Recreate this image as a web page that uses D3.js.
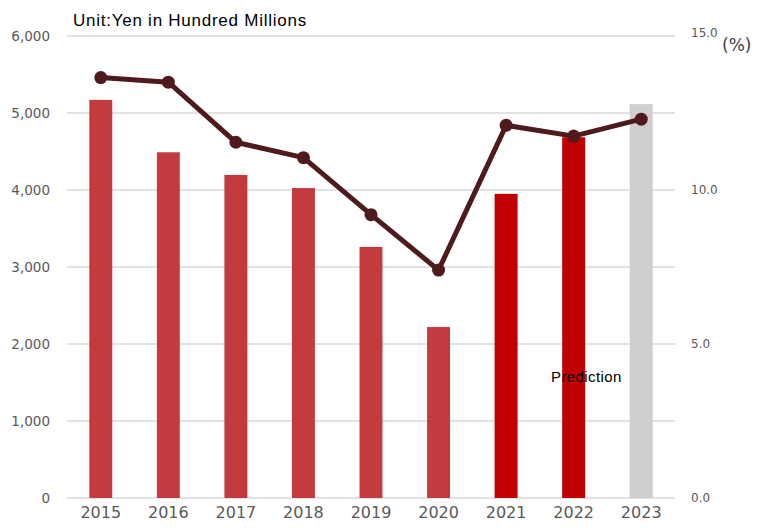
<!DOCTYPE html>
<html>
<head>
<meta charset="utf-8">
<script src="https://cdn.jsdelivr.net/npm/d3@7"></script>
<style>
  body { margin: 0; background: #fff; }
</style>
</head>
<body>
<div class="chart"></div>
<script>
var width = 758;
var height = 528;
var margin = { top: 36, right: 84, bottom: 30, left: 67 };

var years = ["2015", "2016", "2017", "2018", "2019", "2020", "2021", "2022", "2023"];
var sales = [5170, 4490, 4195, 4025, 3260, 2220, 3950, 4685, 5115];
var rate = [13.65, 13.5, 11.55, 11.05, 9.2, 7.4, 12.1, 11.75, 12.3];
var barColors = ["#c33b3e", "#c33b3e", "#c33b3e", "#c33b3e", "#c33b3e", "#c33b3e", "#c00000", "#c00000", "#d0cece"];
var leftTicks = [0, 1000, 2000, 3000, 4000, 5000, 6000];
var rightTicks = [0, 5, 10, 15];

var svg = d3.select(".chart").append("svg").attr("width", width).attr("height", height);

var x = d3.scaleBand().domain(years)
	.range([margin.left, width - margin.right + 1])
	.paddingInner(0.66).paddingOuter(0.33);
var yLeft = d3.scaleLinear().domain([0, 6000]).range([height - margin.bottom, margin.top]);
var yRight = d3.scaleLinear().domain([0, 15]).range([height - margin.bottom, margin.top]);

// gridlines
svg.append("g").selectAll("line").data(leftTicks).join("line")
	.attr("x1", margin.left).attr("x2", width - margin.right + 1)
	.attr("y1", function(d) { return yLeft(d); })
	.attr("y2", function(d) { return yLeft(d); })
	.attr("stroke", "#d9d9d9").attr("stroke-width", 1.5);

// bars
svg.append("g").selectAll("rect").data(sales).join("rect")
	.attr("x", function(d, i) { return x(years[i]); })
	.attr("width", x.bandwidth())
	.attr("y", function(d) { return yLeft(d); })
	.attr("height", function(d) { return yLeft(0) - yLeft(d); })
	.attr("fill", function(d, i) { return barColors[i]; });

// left axis
var leftAxis = svg.append("g")
	.attr("transform", "translate(" + (margin.left - 14) + ",0)")
	.call(d3.axisLeft(yLeft).tickValues(leftTicks).tickFormat(d3.format(",")).tickSize(0));
leftAxis.select(".domain").remove();
leftAxis.attr("font-family", "DejaVu Sans, Verdana, sans-serif");
leftAxis.selectAll("text").attr("fill", "#595959").attr("font-size", 13.5);

// right axis
var rightAxis = svg.append("g")
	.attr("transform", "translate(" + (width - margin.right + 14) + ",0)")
	.call(d3.axisRight(yRight).tickValues(rightTicks).tickFormat(d3.format(".1f")).tickSize(0));
rightAxis.select(".domain").remove();
rightAxis.attr("font-family", "DejaVu Sans, Verdana, sans-serif");
rightAxis.selectAll("text").attr("fill", "#595959").attr("font-size", 12)
	.attr("dy", function(d) { return d == 15 ? "0" : "0.32em"; });

// x axis labels
var xAxis = svg.append("g")
	.attr("transform", "translate(0," + (height - margin.bottom + 6) + ")")
	.call(d3.axisBottom(x).tickSize(0));
xAxis.select(".domain").remove();
xAxis.attr("font-family", "DejaVu Sans, Verdana, sans-serif");
xAxis.selectAll("text").attr("fill", "#595959").attr("font-size", 16);

// line
var line = d3.line()
	.x(function(d, i) { return x(years[i]) + x.bandwidth() / 2; })
	.y(function(d) { return yRight(d); });

svg.append("path").datum(rate)
	.attr("d", line)
	.attr("fill", "none")
	.attr("stroke", "#4f1a1b")
	.attr("stroke-width", 5)
	.attr("stroke-linejoin", "round");

svg.append("g").selectAll("circle").data(rate).join("circle")
	.attr("cx", function(d, i) { return x(years[i]) + x.bandwidth() / 2; })
	.attr("cy", function(d) { return yRight(d); })
	.attr("r", 6.5)
	.attr("fill", "#4f1a1b");

// labels
svg.append("text").attr("x", 73).attr("y", 26)
	.attr("font-family", "Liberation Sans, Arial, sans-serif")
	.attr("font-size", 17).attr("letter-spacing", 0.75).attr("fill", "#000")
	.text("Unit:Yen in Hundred Millions");

svg.append("text").attr("x", 722).attr("y", 51)
	.attr("font-family", "DejaVu Sans, Verdana, sans-serif")
	.attr("font-size", 17).attr("fill", "#404040")
	.text("(%)");

svg.append("text").attr("x", 551).attr("y", 382)
	.attr("font-family", "Liberation Sans, Arial, sans-serif")
	.attr("font-size", 15).attr("letter-spacing", 0.4).attr("fill", "#000")
	.text("Prediction");
</script>
</body>
</html>
